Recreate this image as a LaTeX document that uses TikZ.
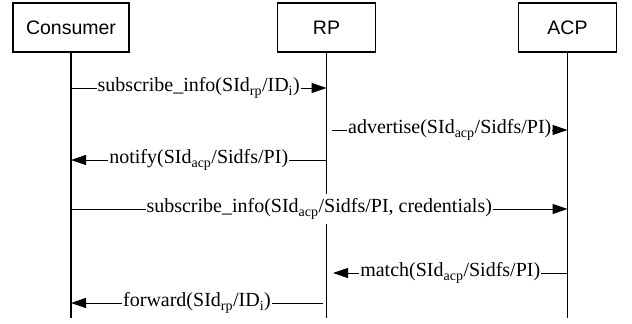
\documentclass[tikz,border=0pt]{standalone}
\usepackage{fontspec}
\setmainfont{Liberation Serif}
\newfontfamily\arialfont{Liberation Sans}
\usetikzlibrary{arrows.meta}
\begin{document}
\begin{tikzpicture}[x=1pt,y=-1pt,
  actorbox/.style={draw, line width=1.1pt, minimum height=49pt, inner sep=0pt,
    font=\arialfont\fontsize{19.5}{23}\selectfont},
  lifeline/.style={line width=1.1pt},
  msg/.style={line width=1pt, -{Triangle[length=15pt,width=10pt]}},
  lbl/.style={fill=white, inner xsep=1pt, inner ysep=5pt,
    font=\fontsize{20}{24}\selectfont}]
\useasboundingbox (0,0) rectangle (632,324);
% actors
\node[actorbox, minimum width=116pt] (cons) at (71,27.5) {Consumer};
\node[actorbox, minimum width=98pt] (rp) at (326.5,27.5) {RP};
\node[actorbox, minimum width=98pt] (acp) at (567.5,27.5) {ACP};
% lifeline ends
\coordinate (consEnd) at (71,318);
\coordinate (rpEnd) at (326.5,318);
\coordinate (acpEnd) at (567.5,318);
\draw[lifeline] (cons.south) -- (consEnd);
\draw[lifeline] (rp.south) -- (rpEnd);
\draw[lifeline] (acp.south) -- (acpEnd);
% message points
\coordinate (c1) at (71,88);   \coordinate (r1) at (326.5,88);
\coordinate (r2) at (332,130); \coordinate (a2) at (567.5,130);
\coordinate (r3) at (326.5,160); \coordinate (c3) at (71,160);
\coordinate (c4) at (71,209);  \coordinate (a4) at (567.5,209);
\coordinate (a5) at (567.5,273); \coordinate (r5) at (333,273);
\coordinate (r6) at (323,303); \coordinate (c6) at (71,303);
% messages
\draw[msg] (c1) -- node[lbl]{subscribe\_info(SId\textsubscript{rp}/ID\textsubscript{i})} (r1);
\draw[msg] (r2) -- node[lbl]{advertise(SId\textsubscript{acp}/Sidfs/PI)} (a2);
\draw[msg] (r3) -- node[lbl]{notify(SId\textsubscript{acp}/Sidfs/PI)} (c3);
\draw[msg] (c4) -- node[lbl]{subscribe\_info(SId\textsubscript{acp}/Sidfs/PI, credentials)} (a4);
\draw[msg] (a5) -- node[lbl]{match(SId\textsubscript{acp}/Sidfs/PI)} (r5);
\draw[msg] (r6) -- node[lbl]{forward(SId\textsubscript{rp}/ID\textsubscript{i})} (c6);
\end{tikzpicture}
\end{document}
